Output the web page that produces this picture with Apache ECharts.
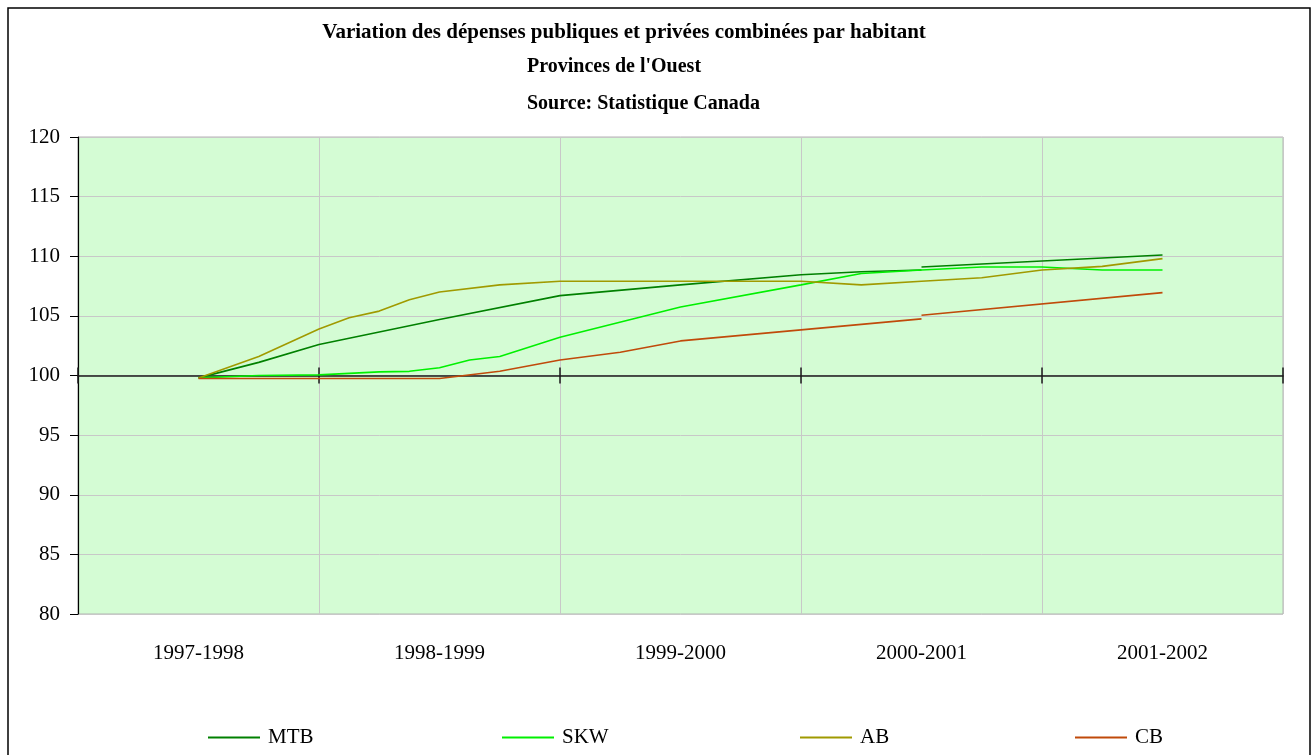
<!DOCTYPE html>
<html>
<head>
<meta charset="utf-8">
<title>Variation des dépenses publiques et privées</title>
<script src="https://cdn.jsdelivr.net/npm/echarts@6/dist/echarts.min.js"></script>
<style>
html, body { margin: 0; padding: 0; background: #fff; }
#chart { width: 1313px; height: 755px; }
</style>
</head>
<body>
<div id="chart"></div>
<script>
//categories (one band per fiscal year)
var categories = ['1997-1998', '1998-1999', '1999-2000', '2000-2001', '2001-2002'];
var seriesNames = ['MTB', 'SKW', 'AB', 'CB'];

//positions are in category units: 0 = centre of 1997-1998, 4 = centre of 2001-2002
//null = break in the line
var mtbX = [0, 0.25, 0.5, 1, 1.5, 2, 2.5, 2.75, 3, 3, 3, 4];
var mtbY = [99.8, 101.1, 102.6, 104.7, 106.7, 107.6, 108.45, 108.7, 108.85, null, 109.1, 110.1];

var skwX = [0, 0.25, 0.5, 0.75, 0.875, 1, 1.125, 1.25, 1.5, 2, 2.5, 2.75, 3, 3.25, 3.5, 3.75, 4];
var skwY = [99.8, 100.0, 100.05, 100.3, 100.35, 100.65, 101.3, 101.6, 103.2, 105.75, 107.6, 108.55, 108.85, 109.1, 109.1, 108.85, 108.85];

var abX = [0, 0.25, 0.5, 0.625, 0.75, 0.875, 1, 1.25, 1.5, 2, 2.5, 2.75, 3, 3.25, 3.5, 3.75, 4];
var abY = [99.8, 101.6, 103.9, 104.85, 105.4, 106.35, 107.0, 107.6, 107.9, 107.9, 107.9, 107.6, 107.9, 108.2, 108.85, 109.15, 109.8];

var cbX = [0, 1, 1.25, 1.5, 1.75, 2, 3, 3, 3, 4];
var cbY = [99.75, 99.75, 100.35, 101.3, 101.95, 102.9, 104.75, null, 105.05, 106.95];

var colors = ['#008000', '#00F000', '#A09A00', '#C04A0A'];
var font = 'Liberation Serif';

//[x, y] pairs on the hidden value axis (band centre = index + 0.5)
function pairs(xs, ys) {
	var out = [];
	for (var i = 0; i < xs.length; i++) {
		out.push([xs[i] + 0.5, ys[i] === null ? '-' : ys[i]]);
	}
	return out;
}

var lineData = [pairs(mtbX, mtbY), pairs(skwX, skwY), pairs(abX, abY), pairs(cbX, cbY)];

var chart = echarts.init(document.getElementById('chart'));

var series = [];
for (var s = 0; s < seriesNames.length; s++) {
	series.push({
		name: seriesNames[s],
		type: 'line',
		xAxisIndex: 1,
		yAxisIndex: 0,
		data: lineData[s],
		symbol: 'none',
		connectNulls: false,
		color: colors[s],
		lineStyle: { color: colors[s], width: 1.6 },
		z: 5
	});
}

//one legend per item so each sits where it is in the picture
var legendLeft = [208, 502, 800, 1075];
var legends = [];
for (var l = 0; l < seriesNames.length; l++) {
	legends.push({
		data: [seriesNames[l]],
		left: legendLeft[l],
		top: 727,
		padding: 0,
		icon: 'rect',
		itemWidth: 52,
		itemHeight: 2,
		selectedMode: false,
		textStyle: { fontFamily: font, fontSize: 21, color: '#000', padding: [0, 0, 0, 3] }
	});
}

var option = {
	animation: false,
	backgroundColor: '#fff',
	textStyle: { fontFamily: font },
	graphic: [
		{ type: 'rect', shape: { x: 8, y: 8, width: 1302, height: 760 }, style: { fill: 'none', stroke: '#000', lineWidth: 1.5 }, silent: true },
		{ type: 'text', x: 624, y: 33, style: { text: 'Variation des dépenses publiques et privées combinées par habitant', fontFamily: font, fontWeight: 'bold', fontSize: 21, fill: '#000', textAlign: 'center', textVerticalAlign: 'middle' } },
		{ type: 'text', x: 527, y: 67, style: { text: "Provinces de l'Ouest", fontFamily: font, fontWeight: 'bold', fontSize: 20, fill: '#000', textAlign: 'left', textVerticalAlign: 'middle' } },
		{ type: 'text', x: 527, y: 104, style: { text: 'Source: Statistique Canada', fontFamily: font, fontWeight: 'bold', fontSize: 20, fill: '#000', textAlign: 'left', textVerticalAlign: 'middle' } }
	],
	legend: legends,
	grid: {
		left: 78,
		right: 30,
		top: 137,
		bottom: 141,
		show: true,
		backgroundColor: '#D4FCD4',
		borderColor: '#B4B4B4',
		borderWidth: 1
	},
	xAxis: [
		{
			//labels and vertical grid lines
			type: 'category',
			data: categories,
			boundaryGap: true,
			position: 'bottom',
			axisLine: { show: false },
			axisTick: { show: false },
			axisLabel: { fontFamily: font, fontSize: 21, color: '#000', margin: 29 },
			splitLine: { show: true, lineStyle: { color: '#C8C8C8', width: 1 } }
		},
		{
			//axis line crossing at 100, ticks below
			type: 'value',
			min: 0,
			max: 5,
			interval: 1,
			position: 'bottom',
			axisLine: { show: true, onZero: true, onZeroAxisIndex: 1, lineStyle: { color: '#1a1a1a', width: 1.5 } },
			axisTick: { show: true, length: 8, lineStyle: { color: '#1a1a1a', width: 1.5 } },
			axisLabel: { show: false },
			splitLine: { show: false }
		},
		{
			//same line, ticks above
			type: 'value',
			min: 0,
			max: 5,
			interval: 1,
			position: 'bottom',
			axisLine: { show: false, onZero: true, onZeroAxisIndex: 1 },
			axisTick: { show: true, inside: true, length: 8, lineStyle: { color: '#1a1a1a', width: 1.5 } },
			axisLabel: { show: false },
			splitLine: { show: false }
		}
	],
	yAxis: [
		{
			type: 'value',
			min: 80,
			max: 120,
			interval: 5,
			axisLine: { show: true, lineStyle: { color: '#000', width: 1.2 } },
			axisTick: { show: true, length: 8, lineStyle: { color: '#000' } },
			axisLabel: { fontFamily: font, fontSize: 21, color: '#000', margin: 18 },
			splitLine: { show: true, lineStyle: { color: '#C8C8C8', width: 1 } }
		},
		{
			//hidden helper so the x axis line can sit at 100
			type: 'value',
			min: -20,
			max: 20,
			show: false
		}
	],
	series: series
};

chart.setOption(option);
</script>
</body>
</html>
